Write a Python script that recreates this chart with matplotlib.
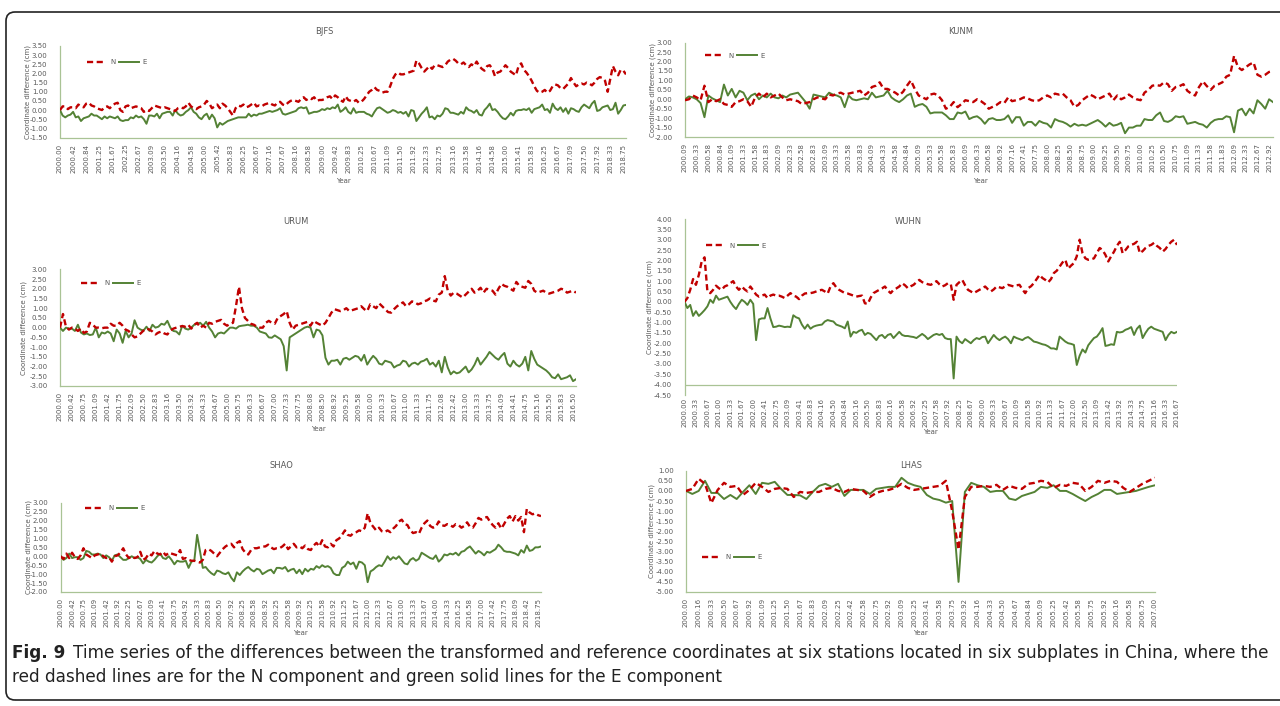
import matplotlib.pyplot as plt
from matplotlib.lines import Line2D
from matplotlib.patches import FancyBboxPatch
from matplotlib.transforms import IdentityTransform
import numpy as np

W, H = 1280, 706
RED = '#c00000'
GREEN = '#548235'
AXIS = '#a9c395'
TXT = '#595959'

# ---- BJFS ----
BJFS_TICKS = ['2000.00', '2000.42', '2000.84', '2001.25', '2001.67', '2002.25', '2002.67', '2003.09',
              '2003.50', '2004.16', '2004.58', '2005.00', '2005.42', '2005.83', '2006.25', '2006.67',
              '2007.16', '2007.67', '2008.16', '2008.58', '2009.00', '2009.42', '2009.83', '2010.25',
              '2010.67', '2011.09', '2011.50', '2011.92', '2012.33', '2012.75', '2013.16', '2013.58',
              '2014.16', '2014.58', '2015.00', '2015.41', '2015.83', '2016.25', '2016.67', '2017.09',
              '2017.50', '2017.92', '2018.33', '2018.75']
BJFS_N = [0.0, 0.2, 0.2, 0.05, 0.15, 0.15, 0.1, 0.3, 0.2, 0.15,
          0.35, 0.4, 0.25, 0.2, 0.1, 0.05, 0.0, 0.15, 0.2, 0.1,
          0.25, 0.35, 0.4, 0.0, -0.1, 0.2, 0.25, 0.1, 0.15, 0.2,
          0.15, 0.1, -0.1, 0.0, -0.05, 0.1, 0.25, 0.2, 0.15, 0.1,
          0.15, 0.1, 0.05, 0.0, -0.05, 0.1, 0.15, 0.1, 0.2, 0.4,
          0.2, 0.1, 0.05, 0.15, 0.2, 0.3, 0.5, 0.35, 0.1, 0.2,
          0.3, 0.1, 0.35, 0.25, 0.1, -0.1, -0.3, 0.1, 0.25, 0.2,
          0.3, 0.15, 0.2, 0.3, 0.4, 0.2, 0.25, 0.2, 0.3, 0.35,
          0.4, 0.3, 0.25, 0.4, 0.45, 0.3, 0.25, 0.4, 0.5, 0.55,
          0.5, 0.45, 0.6, 0.7, 0.55, 0.65, 0.6, 0.7, 0.5, 0.55,
          0.55, 0.6, 0.7, 0.75, 0.6, 0.8, 0.7, 0.55, 0.45, 0.75,
          0.55, 0.5, 0.45, 0.55, 0.4, 0.45, 0.6, 0.8, 1.0, 1.1,
          1.25, 1.1, 1.05, 0.95, 1.0, 1.0, 1.3, 1.7, 1.95, 2.05,
          1.95, 1.95, 2.0, 2.05, 2.1, 2.15, 2.7, 2.55, 2.3, 2.1,
          2.25, 2.4, 2.25, 2.45, 2.45, 2.4, 2.35, 2.45, 2.65, 2.75,
          2.8, 2.7, 2.55, 2.5, 2.6, 2.45, 2.35, 2.5, 2.4, 2.65,
          2.4, 2.25, 2.15, 2.4, 2.45, 2.25, 1.85, 2.05, 2.1, 2.25,
          2.45, 2.3, 2.1, 2.0, 1.9, 2.4, 2.55, 2.2, 2.05, 1.85,
          1.6, 1.3, 1.05, 0.95, 1.0, 1.1, 0.95, 1.05, 1.3, 1.4,
          1.35, 1.2, 1.15, 1.3, 1.45, 1.75, 1.5, 1.3, 1.4, 1.45,
          1.4, 1.5, 1.45, 1.35, 1.5, 1.7, 1.8, 1.75, 1.6, 1.0,
          1.7, 2.4, 2.1, 1.9, 2.2, 2.15, 1.95]
BJFS_E = [0.0, -0.3, -0.4, -0.3, -0.25, -0.1, -0.4, -0.35, -0.6, -0.45,
          -0.4, -0.35, -0.2, -0.3, -0.3, -0.4, -0.5, -0.35, -0.45, -0.35,
          -0.4, -0.45, -0.35, -0.55, -0.6, -0.55, -0.55, -0.4, -0.45, -0.3,
          -0.4, -0.35, -0.5, -0.75, -0.3, -0.3, -0.35, -0.2, -0.45, -0.2,
          -0.15, -0.1, -0.1, -0.3, 0.0, -0.2, -0.3, -0.25, -0.1, 0.0,
          0.15, -0.1, -0.2, -0.4, -0.5, -0.3, -0.2, -0.5, -0.25, -0.45,
          -0.95, -0.7, -0.8, -0.7, -0.6, -0.55, -0.5, -0.45, -0.4, -0.4,
          -0.4, -0.4, -0.2, -0.35, -0.25, -0.3, -0.2, -0.2, -0.15, -0.1,
          -0.05, -0.1, -0.05, 0.0, 0.1, -0.2, -0.25, -0.2, -0.15, -0.1,
          -0.05, 0.1, 0.15, 0.1, 0.15, -0.2, -0.15, -0.1, -0.1, -0.05,
          0.05, 0.0, 0.1, 0.05, 0.15, 0.1, 0.3, -0.1, 0.0, 0.15,
          -0.1, -0.2, 0.1, -0.15, -0.1, -0.1, -0.1, -0.2, -0.25, -0.35,
          -0.1, 0.1, 0.15, 0.05, -0.05, -0.15, -0.1, 0.0, -0.05, -0.15,
          -0.1, -0.2, -0.1, -0.35, 0.0, -0.05, -0.6, -0.4, -0.2, -0.05,
          0.15, -0.4, -0.35, -0.5, -0.3, -0.35, -0.2, 0.1, 0.05, -0.15,
          -0.15, -0.2, -0.25, -0.1, -0.2, 0.15, 0.0, -0.05, -0.15, 0.0,
          -0.25, -0.3, 0.0, 0.15, 0.35, 0.0, 0.05, -0.1, -0.3, -0.45,
          -0.5, -0.35, -0.15, -0.3, -0.05, 0.0, 0.0, 0.05, 0.0, 0.1,
          -0.15, 0.05, 0.1, 0.15, 0.3, 0.0, 0.05, -0.15, 0.35, 0.1,
          0.0, 0.15, -0.1, 0.1, -0.2, 0.1, 0.05, -0.05, -0.1, 0.15,
          0.3, 0.2, 0.1, 0.35, 0.5, -0.05, 0.0, 0.15, 0.2, 0.25,
          0.0, 0.05, 0.4, -0.2, 0.0, 0.25, 0.28]

# ---- KUNM ----
KUNM_TICKS = ['2000.09', '2000.33', '2000.58', '2000.84', '2001.09', '2001.33', '2001.58', '2001.83',
              '2002.09', '2002.33', '2002.58', '2002.83', '2003.09', '2003.33', '2003.58', '2003.83',
              '2004.09', '2004.33', '2004.58', '2004.84', '2005.09', '2005.33', '2005.58', '2005.83',
              '2006.09', '2006.33', '2006.58', '2006.92', '2007.16', '2007.41', '2007.75', '2008.00',
              '2008.25', '2008.50', '2008.75', '2009.00', '2009.25', '2009.50', '2009.75', '2010.00',
              '2010.25', '2010.50', '2010.75', '2011.09', '2011.33', '2011.58', '2011.83', '2012.09',
              '2012.33', '2012.67', '2012.92']
KUNM_N = [-0.05, 0.0, 0.2, 0.1, -0.05, 0.72, -0.15, 0.0, -0.1, 0.0,
          -0.25, -0.3, -0.4, -0.15, -0.1, 0.0, -0.1, -0.4, 0.1, 0.3,
          0.1, 0.3, 0.1, 0.2, 0.3, 0.1, -0.05, 0.0, -0.05, -0.1,
          -0.25, -0.2, -0.15, 0.0, 0.1, 0.05, 0.0, 0.25, 0.2, 0.3,
          0.35, 0.25, 0.3, 0.35, 0.4, 0.45, 0.2, 0.35, 0.65, 0.72,
          0.9, 0.55, 0.55, 0.45, 0.35, 0.2, 0.4, 0.72, 1.0, 0.55,
          0.2, 0.1, 0.0, 0.25, 0.3, 0.2, -0.05, -0.5, -0.4, -0.15,
          -0.42, -0.25, -0.05, -0.1, -0.15, 0.0, -0.1, -0.25, -0.5, -0.4,
          -0.3, -0.15, -0.2, 0.1, -0.1, -0.05, 0.0, 0.1, 0.05, -0.05,
          -0.1, -0.05, 0.1, 0.2, 0.1, 0.3, 0.25, 0.3, 0.1, -0.05,
          -0.4, -0.3, -0.05, 0.1, 0.25, 0.15, 0.0, 0.1, 0.2, 0.3,
          -0.05, 0.2, 0.0, 0.1, 0.25, 0.1, 0.0, -0.05, 0.35, 0.5,
          0.72, 0.75, 0.72, 0.9, 0.8, 0.45, 0.65, 0.7, 0.8, 0.45,
          0.3, 0.2, 0.65, 0.95, 0.7, 0.5, 0.72, 0.8, 0.9, 1.2,
          1.3, 2.3, 1.7, 1.55, 1.7, 1.85, 1.95, 1.3, 1.2, 1.3,
          1.45, 1.5]
KUNM_E = [0.0, 0.15, 0.1, 0.0, -0.2, -0.95, 0.2, 0.05, -0.05, -0.15,
          0.78, 0.2, 0.55, 0.1, 0.45, 0.35, -0.05, 0.2, 0.3, 0.0,
          0.2, 0.1, 0.3, 0.1, 0.05, 0.2, 0.1, 0.25, 0.3, 0.35,
          0.1, -0.15, -0.5, 0.25, 0.2, 0.15, 0.1, 0.35, 0.25, 0.2,
          0.1, -0.42, 0.2, 0.0, -0.05, 0.0, 0.05, 0.0, 0.35, 0.1,
          0.15, 0.2, 0.45, 0.1, -0.05, -0.15, 0.0, 0.2, 0.3, -0.4,
          -0.3, -0.25, -0.4, -0.75, -0.7, -0.7, -0.7, -0.85, -1.05, -1.05,
          -0.7, -0.75, -0.65, -1.05, -0.95, -0.9, -1.05, -1.3, -1.05, -1.0,
          -1.1, -1.1, -1.05, -0.85, -1.25, -0.95, -0.95, -1.4, -1.2, -1.2,
          -1.4, -1.15, -1.25, -1.3, -1.5, -1.05, -1.15, -1.2, -1.3, -1.45,
          -1.3, -1.4, -1.35, -1.4, -1.3, -1.2, -1.1, -1.25, -1.45, -1.25,
          -1.4, -1.35, -1.25, -1.8, -1.5, -1.5, -1.4, -1.4, -1.05, -1.1,
          -1.1, -0.85, -0.7, -1.15, -1.2, -1.1, -0.9, -0.95, -0.9, -1.3,
          -1.25, -1.2, -1.3, -1.35, -1.5, -1.25, -1.1, -1.05, -1.05, -0.9,
          -0.95, -1.75, -0.6, -0.5, -0.85, -0.5, -0.75, -0.05, -0.25, -0.5,
          0.0, -0.15]

# ---- URUM ----
URUM_TICKS = ['2000.00', '2000.42', '2000.75', '2001.09', '2001.42', '2001.75', '2002.09', '2002.50',
              '2002.83', '2003.16', '2003.50', '2003.92', '2004.33', '2004.67', '2005.00', '2005.75',
              '2006.33', '2006.67', '2007.00', '2007.33', '2007.75', '2008.08', '2008.50', '2008.92',
              '2009.25', '2009.58', '2010.00', '2010.33', '2010.67', '2011.00', '2011.33', '2011.75',
              '2012.08', '2012.42', '2013.00', '2013.33', '2013.75', '2014.09', '2014.41', '2014.75',
              '2015.16', '2015.50', '2015.83', '2016.50']
URUM_N = [0.0, 0.7, 0.05, -0.1, 0.0, -0.05, -0.17, -0.05, -0.27, -0.2,
          0.25, 0.15, 0.0, 0.0, -0.03, 0.0, 0.0, 0.2, 0.1, 0.1,
          0.25, 0.1, -0.1, -0.17, -0.35, -0.5, -0.45, -0.3, -0.15, -0.05,
          -0.1, -0.2, -0.35, -0.25, -0.2, -0.3, -0.35, -0.15, -0.05, 0.0,
          0.05, 0.08, 0.05, 0.15, -0.05, 0.15, 0.25, 0.0, 0.1, 0.0,
          0.25, 0.2, 0.3, 0.35, 0.4, 0.2, 0.1, 0.2, 0.25, 1.1,
          2.1, 1.0, 0.5, 0.35, 0.2, 0.15, 0.05, 0.0, 0.0, 0.25,
          0.35, 0.25, 0.2, 0.5, 0.6, 0.7, 0.85, 0.25, -0.1, 0.1,
          0.15, 0.2, 0.25, 0.3, 0.1, 0.35, 0.25, 0.17, 0.1, 0.25,
          0.5, 0.77, 0.95, 0.9, 0.85, 0.9, 1.0, 0.85, 0.9, 0.95,
          1.0, 1.1, 0.95, 0.85, 1.2, 1.1, 1.0, 1.25, 1.1, 0.95,
          0.8, 0.77, 0.95, 1.1, 1.2, 1.3, 1.1, 1.2, 1.35, 1.3,
          1.2, 1.25, 1.35, 1.4, 1.5, 1.4, 1.35, 1.7, 1.8, 2.65,
          1.9, 1.65, 1.8, 1.75, 1.65, 1.55, 1.7, 1.85, 2.0, 1.8,
          1.9, 2.05, 1.8, 2.0, 1.95, 1.9, 1.7, 2.0, 2.25, 2.15,
          2.1, 2.0, 1.9, 2.35, 2.15, 2.1, 2.05, 2.4, 2.25, 1.9,
          1.8, 1.85, 1.9, 1.8, 1.75, 1.8, 1.85, 1.9, 2.0, 1.95,
          1.8, 1.85, 1.9, 1.8]
URUM_E = [0.0, -0.17, 0.0, -0.05, -0.05, -0.17, 0.15, -0.25,
          -0.35, -0.3, -0.38, -0.35, 0.0, -0.5, -0.25, -0.3,
          -0.2, -0.3, -0.7, -0.1, -0.3, -0.78, -0.17, -0.5,
          -0.3, 0.38, 0.0, -0.1, -0.15, 0.05, -0.17, 0.15,
          0.0, 0.05, 0.2, 0.15, 0.35, 0.0, -0.17, -0.2,
          -0.35, 0.1, -0.05, -0.1, 0.0, 0.15, 0.2, 0.25,
          0.1, 0.3, 0.0, -0.2, -0.5, -0.3, -0.25, -0.3,
          -0.15, 0.0, 0.0, -0.05, 0.07, 0.1, 0.12, 0.15,
          0.1, 0.1, 0.0, -0.2, -0.25, -0.3, -0.5, -0.52,
          -0.4, -0.5, -0.6, -0.95, -2.2, -0.5, -0.4, -0.3,
          -0.2, -0.1, 0.0, 0.05, 0.0, -0.5, -0.1, -0.15,
          -0.4, -1.55, -1.9, -1.7, -1.7, -1.65, -1.9, -1.6,
          -1.55, -1.65, -1.55, -1.45, -1.5, -1.7, -1.4, -1.9,
          -1.65, -1.45, -1.6, -1.85, -1.9, -1.7, -1.75, -1.8,
          -2.05, -1.95, -1.9, -1.7, -1.75, -2.0, -1.85, -1.8,
          -1.9, -1.75, -1.7, -1.6, -1.9, -1.8, -2.0, -1.7,
          -2.3, -1.5, -2.05, -2.4, -2.25, -2.35, -2.3, -2.15,
          -2.0, -2.3, -2.15, -1.9, -1.55, -1.9, -1.7, -1.5,
          -1.25, -1.4, -1.55, -1.65, -1.45, -1.3, -1.85, -2.0,
          -1.7, -1.9, -2.0, -1.85, -1.5, -2.2, -1.2, -1.6,
          -1.9, -2.0, -2.1, -2.2, -2.35, -2.55, -2.6, -2.4,
          -2.65, -2.6, -2.55, -2.45, -2.75, -2.65]

# ---- WUHN ----
WUHN_TICKS = ['2000.00', '2000.33', '2000.67', '2001.00', '2001.33', '2001.67', '2002.00', '2002.41',
              '2002.75', '2003.09', '2003.41', '2003.83', '2004.16', '2004.50', '2004.84', '2005.16',
              '2005.50', '2005.83', '2006.16', '2006.58', '2006.92', '2007.25', '2007.58', '2007.92',
              '2008.25', '2008.67', '2009.00', '2009.33', '2009.67', '2010.09', '2010.58', '2010.92',
              '2011.33', '2011.67', '2012.00', '2012.50', '2013.09', '2013.42', '2013.92', '2014.33',
              '2014.75', '2015.16', '2016.33', '2016.67']
WUHN_N = [0.0, 0.18, 0.58, 1.1, 0.82, 1.3, 1.95, 2.15, 0.5, 0.42,
          0.58, 0.78, 0.66, 0.58, 0.74, 0.8, 0.9, 1.0, 0.74, 0.58,
          0.74, 0.6, 0.5, 0.74, 0.55, 0.35, 0.25, 0.3, 0.35, 0.18,
          0.3, 0.35, 0.3, 0.3, 0.25, 0.18, 0.3, 0.42, 0.3, 0.25,
          0.13, 0.3, 0.4, 0.42, 0.42, 0.45, 0.5, 0.55, 0.58, 0.5,
          0.4, 0.74, 0.9, 0.7, 0.58, 0.5, 0.42, 0.4, 0.35, 0.3,
          0.25, 0.28, 0.3, -0.07, -0.1, 0.2, 0.42, 0.5, 0.58, 0.65,
          0.74, 0.55, 0.42, 0.58, 0.65, 0.74, 0.9, 0.8, 0.66, 0.75,
          0.82, 0.95, 1.06, 0.95, 0.9, 0.85, 0.82, 0.9, 1.0, 0.85,
          0.74, 0.8, 0.9, 0.85, 0.1, 0.82, 0.95, 1.06, 0.8, 0.58,
          0.5, 0.42, 0.5, 0.58, 0.65, 0.74, 0.6, 0.5, 0.6, 0.74,
          0.7, 0.66, 0.75, 0.82, 0.78, 0.74, 0.8, 0.82, 0.6, 0.42,
          0.66, 0.75, 0.9, 1.1, 1.3, 1.15, 1.06, 0.94, 1.1, 1.39,
          1.5, 1.7, 1.9, 2.03, 1.6, 1.75, 1.87, 2.2, 3.0, 2.35,
          2.1, 2.03, 2.05, 2.1, 2.35, 2.6, 2.5, 2.27, 1.95, 2.2,
          2.42, 2.7, 2.9, 2.35, 2.5, 2.68, 2.75, 2.8, 2.9, 2.35,
          2.45, 2.6, 2.7, 2.75, 2.85, 2.7, 2.6, 2.42, 2.55, 2.75,
          2.9, 3.0, 2.75]
WUHN_E = [0.0, -0.3, -0.15, -0.68, -0.45, -0.68, -0.55, -0.4, -0.22, 0.1,
          -0.05, 0.3, 0.1, 0.15, 0.2, 0.25, 0.0, -0.2, -0.35, -0.1,
          0.1, 0.0, -0.15, 0.1, -0.1, -1.85, -0.85, -0.8, -0.8, -0.3,
          -0.8, -1.22, -1.2, -1.15, -1.18, -1.22, -1.2, -1.22, -0.65, -0.75,
          -0.8, -1.1, -1.3, -1.1, -1.3, -1.2, -1.15, -1.12, -1.1, -0.95,
          -0.88, -0.92, -0.95, -1.1, -1.15, -1.2, -1.28, -0.95, -1.68, -1.45,
          -1.5, -1.4, -1.35, -1.6, -1.5, -1.55, -1.7, -1.85, -1.65, -1.6,
          -1.75, -1.6, -1.55, -1.75, -1.6, -1.45, -1.6, -1.65, -1.65, -1.68,
          -1.7, -1.75, -1.65, -1.55, -1.65, -1.8, -1.7, -1.6, -1.55, -1.6,
          -1.55, -1.75, -1.8, -1.8, -3.7, -1.68, -1.9, -2.0, -1.8, -1.9,
          -2.0, -1.85, -1.75, -1.8, -1.7, -1.68, -2.0, -1.8, -1.6, -1.75,
          -1.85, -1.75, -1.68, -1.8, -2.0, -1.68, -1.75, -1.8, -1.85, -1.75,
          -1.7, -1.8, -1.92, -1.95, -2.0, -2.05, -2.08, -2.15, -2.25, -2.25,
          -2.3, -1.68, -1.8, -1.92, -2.0, -2.03, -2.08, -3.05, -2.6, -2.3,
          -2.45, -2.1, -1.92, -1.75, -1.68, -1.5, -1.27, -2.13, -2.1, -2.05,
          -2.08, -1.45, -1.48, -1.45, -1.35, -1.3, -1.22, -1.6, -1.3, -1.15,
          -1.75, -1.5, -1.3, -1.2, -1.3, -1.35, -1.4, -1.45, -1.85, -1.6,
          -1.45, -1.52, -1.45]

# ---- SHAO ----
SHAO_TICKS = ['2000.00', '2000.42', '2000.75', '2001.09', '2001.42', '2001.92', '2002.25', '2002.67',
              '2003.09', '2003.41', '2003.75', '2004.92', '2005.33', '2005.83', '2006.50', '2007.92',
              '2008.25', '2008.58', '2008.92', '2009.25', '2009.58', '2009.92', '2010.25', '2010.58',
              '2010.92', '2011.25', '2011.67', '2012.00', '2012.33', '2012.67', '2013.00', '2013.33',
              '2013.67', '2014.00', '2014.33', '2016.25', '2016.58', '2017.00', '2017.42', '2017.75',
              '2018.09', '2018.42', '2018.75']
SHAO_N = [0.0, -0.15, 0.15, -0.1, 0.2, -0.05, -0.15, 0.05,
          0.45, 0.1, 0.0, -0.1, 0.05, 0.1, 0.15, 0.0,
          -0.1, -0.05, -0.3, 0.0, 0.05, 0.2, 0.45, 0.1,
          -0.1, 0.0, -0.1, -0.05, 0.25, -0.2, -0.1, 0.15,
          0.05, 0.3, 0.15, 0.1, 0.25, 0.05, 0.2, 0.15,
          0.1, 0.05, 0.35, -0.15, -0.1, -0.2, -0.25, -0.25,
          -0.3, -0.35, -0.2, 0.35, 0.4, 0.3, 0.15, 0.0,
          0.2, 0.4, 0.55, 0.65, 0.7, 0.5, 0.75, 0.85,
          0.4, 0.2, 0.1, 0.35, 0.45, 0.45, 0.5, 0.55,
          0.55, 0.65, 0.5, 0.4, 0.45, 0.45, 0.55, 0.7,
          0.4, 0.55, 0.7, 0.5, 0.55, 0.45, 0.6, 0.4,
          0.35, 0.6, 0.75, 0.55, 0.9, 0.55, 0.5, 0.7,
          0.55, 0.9, 1.0, 1.2, 1.45, 1.2, 1.15, 1.3,
          1.35, 1.45, 1.4, 1.6, 2.4, 1.85, 1.65, 1.45,
          1.6, 1.4, 1.35, 1.45, 1.35, 1.55, 1.7, 1.95,
          2.05, 1.8, 1.75, 1.45, 1.3, 1.35, 1.25, 1.6,
          1.85, 2.0, 1.7, 1.6, 1.65, 1.95, 1.75, 1.7,
          1.8, 1.75, 1.65, 1.8, 1.75, 1.6, 1.7, 1.9,
          1.65, 1.6, 1.85, 2.15, 2.05, 2.15, 2.2, 1.95,
          1.75, 1.6, 1.85, 1.55, 1.8, 2.1, 2.25, 1.95,
          2.25, 2.0, 2.2, 1.35, 2.65, 2.45, 2.35, 2.4,
          2.3, 2.25]
SHAO_E = [0.0, -0.2, -0.1, 0.15, -0.1, -0.05, -0.05, -0.2,
          -0.1, 0.3, 0.25, 0.1, 0.1, 0.15, 0.1, -0.1,
          0.05, -0.05, -0.25, 0.05, 0.1, -0.05, -0.2, -0.2,
          -0.1, 0.0, -0.1, -0.05, -0.15, -0.4, -0.2, -0.3,
          -0.35, -0.2, 0.0, 0.15, -0.1, -0.15, 0.0, -0.2,
          -0.45, -0.25, -0.3, -0.3, -0.25, -0.65, -0.3, -0.25,
          1.2, 0.3, -0.65, -0.6, -0.8, -0.95, -1.05, -0.8,
          -0.85, -0.95, -1.0, -0.9, -1.2, -1.4, -0.9, -1.05,
          -0.85, -0.7, -0.6, -0.75, -0.85, -0.7, -0.75, -1.0,
          -0.9, -0.8, -0.75, -0.95, -0.65, -0.65, -0.7, -0.6,
          -0.85, -0.75, -0.7, -0.95, -0.75, -1.0, -0.7, -0.85,
          -0.7, -0.75, -0.55, -0.65, -0.5, -0.6, -0.55, -0.65,
          -0.95, -1.05, -1.05, -0.65, -0.55, -0.3, -0.45, -0.35,
          -0.7, -0.3, -0.35, -0.5, -1.45, -0.85, -0.75, -0.6,
          -0.5, -0.55, -0.3, 0.0, -0.2, -0.05, -0.15, 0.0,
          -0.2, -0.4, -0.45, -0.2, -0.1, -0.25, -0.15, 0.2,
          0.1, 0.0, -0.1, -0.15, 0.05, -0.3, -0.15, 0.1,
          0.05, 0.15, 0.1, 0.2, 0.05, 0.25, 0.3, 0.45,
          0.55, 0.35, 0.15, 0.3, 0.2, 0.05, 0.25, 0.2,
          0.3, 0.4, 0.65, 0.5, 0.3, 0.25, 0.25, 0.2,
          0.15, 0.05, 0.35, 0.2, 0.6, 0.3, 0.35, 0.5,
          0.5, 0.55]

# ---- LHAS ----
LHAS_TICKS = ['2000.00', '2000.16', '2000.33', '2000.50', '2000.67', '2000.92', '2001.09', '2001.25',
              '2001.50', '2001.67', '2001.83', '2002.09', '2002.25', '2002.42', '2002.58', '2002.75',
              '2002.92', '2003.09', '2003.25', '2003.41', '2003.58', '2003.75', '2003.92', '2004.16',
              '2004.33', '2004.50', '2004.67', '2004.84', '2005.09', '2005.25', '2005.42', '2005.58',
              '2005.75', '2005.92', '2006.16', '2006.58', '2006.75', '2007.00']
LHAS_N = [0.0, 0.1, 0.6, 0.35, -0.6, 0.05, 0.4, 0.2, 0.25, -0.2,
          0.05, 0.4, 0.2, -0.05, 0.1, 0.15, 0.1, -0.3, -0.05, -0.1,
          -0.05, -0.05, 0.1, 0.15, 0.0, -0.05, 0.1, 0.05, 0.0, -0.3,
          -0.1, 0.0, 0.05, 0.15, 0.35, 0.15, 0.05, 0.1, 0.15, 0.2,
          0.25, 0.5, -1.0, -2.9, -0.3, 0.2, 0.2, 0.25, 0.2, 0.3,
          0.05, 0.25, 0.15, 0.1, 0.35, 0.4, 0.5, 0.45, 0.15, 0.3,
          0.25, 0.4, 0.35, 0.0, 0.2, 0.5, 0.4, 0.5, 0.45, 0.15,
          -0.05, 0.15, 0.35, 0.5, 0.65]
LHAS_E = [0.0, -0.15, 0.0, 0.5, -0.1, -0.1, -0.4, -0.2, -0.4, -0.05,
          0.28, -0.15, 0.4, 0.35, 0.45, 0.1, -0.2, -0.2, -0.22, -0.4,
          -0.05, 0.25, 0.35, 0.2, 0.35, -0.25, 0.05, 0.05, 0.05, -0.15,
          0.1, 0.15, 0.2, 0.2, 0.65, 0.4, 0.28, 0.2, -0.2, -0.38,
          -0.45, -0.58, -0.5, -4.5, -0.05, 0.4, 0.28, 0.2, -0.05, 0.0,
          0.0, -0.38, -0.45, -0.25, -0.15, -0.05, 0.2, 0.15, 0.28, 0.0,
          0.0, -0.15, -0.33, -0.5, -0.3, -0.15, 0.05, 0.05, -0.15, -0.1,
          -0.05, 0.0, 0.1, 0.2, 0.28]


def fx(px):
    return px / W


def fy(py):
    return 1 - py / H


def panel(fig, name, box, ylim, ticks, step, north, east, legend_at, title_at, year_at,
          ylab_x, xline=None, xpad=4.5):
    x0, y0, x1, y1 = box
    ax = fig.add_axes([fx(x0), fy(y1), fx(x1 - x0), (y1 - y0) / H])
    n = len(east)
    x = np.arange(n)
    ax.plot(x, east, color=GREEN, lw=1.4, solid_joinstyle='round', label='E', zorder=3)
    ax.plot(np.arange(len(north)), north, color=RED, lw=1.7, ls=(0, (2.6, 1.5)),
            label='N', zorder=4)
    ax.set_xlim(0, n - 1)
    ax.set_ylim(*ylim)
    ax.set_yticks(np.arange(ylim[0], ylim[1] + 0.01, 0.5))
    ax.yaxis.set_major_formatter(plt.FuncFormatter(lambda v, p: f'{v:.2f}'))
    ax.set_xticks(np.arange(len(ticks)) * step)
    ax.set_xticklabels(ticks, rotation=90)
    ax.tick_params(length=0, labelsize=5, labelcolor=TXT)
    ax.tick_params(axis='y', pad=9)
    ax.tick_params(axis='x', pad=xpad)
    for s in ('top', 'right'):
        ax.spines[s].set_visible(False)
    ax.spines['left'].set_color(AXIS)
    ax.spines['left'].set_linewidth(0.9)
    if xline is None:
        ax.spines['bottom'].set_color(AXIS)
        ax.spines['bottom'].set_linewidth(0.9)
    else:
        ax.spines['bottom'].set_visible(False)
        ax.axhline(xline, color=AXIS, lw=0.9, zorder=1)
    ax.patch.set_alpha(0)

    handles = [Line2D([], [], color=RED, lw=1.7, ls=(0, (2.6, 1.5))),
               Line2D([], [], color=GREEN, lw=1.4)]
    ax.legend(handles, ['N', 'E'], ncol=2, loc='center left',
              bbox_to_anchor=(fx(legend_at[0]), fy(legend_at[1])),
              bbox_transform=fig.transFigure, frameon=False, fontsize=5,
              labelcolor=TXT, handlelength=2.8, handletextpad=0.5,
              columnspacing=0.6, borderpad=0, borderaxespad=0)

    fig.text(fx(title_at[0]), fy(title_at[1]), name, ha='center', va='center',
             fontsize=6, color=TXT)
    fig.text(fx(year_at[0]), fy(year_at[1]), 'Year', ha='center', va='center',
             fontsize=5, color=TXT)
    fig.text(fx(ylab_x), fy((y0 + y1) / 2), 'Coordinate difference (cm)', rotation=90,
             ha='center', va='center', fontsize=5, color=TXT)
    return ax


fig = plt.figure(figsize=(W / 100, H / 100), dpi=100)

panel(fig, 'BJFS', (60, 46, 626, 137.5), (-1.5, 3.5), BJFS_TICKS, 5, BJFS_N, BJFS_E,
      (87, 62), (324, 32), (343, 181), 28)
panel(fig, 'KUNM', (685, 42.7, 1273, 137), (-2.0, 3.0), KUNM_TICKS, 3, KUNM_N, KUNM_E,
      (705, 55.7), (961, 32), (980, 181), 653)
panel(fig, 'URUM', (60, 269.3, 576, 386), (-3.0, 3.0), URUM_TICKS, 4, URUM_N, URUM_E,
      (81, 283), (296, 221), (318, 429), 24)
panel(fig, 'WUHN', (684.5, 219, 1177, 395), (-4.5, 4.0), WUHN_TICKS, 4, WUHN_N, WUHN_E,
      (706, 245.7), (908, 221), (930, 432), 650, xline=-4.0, xpad=2)
panel(fig, 'SHAO', (60.7, 502.7, 541, 592), (-2.0, 3.0), SHAO_TICKS, 4, SHAO_N, SHAO_E,
      (85, 508), (281, 466), (300, 633), 29)
panel(fig, 'LHAS', (686, 470.7, 1155, 592), (-5.0, 1.0), LHAS_TICKS, 2, LHAS_N, LHAS_E,
      (702, 557), (911, 465), (920, 633), 652)

# rounded frame around the figure block
frame = FancyBboxPatch((6, H - 700), 1300, 688, boxstyle='round,pad=0,rounding_size=9',
                       transform=IdentityTransform(), fill=False, ec='#222222', lw=1.2,
                       figure=fig)
fig.patches.append(frame)

# caption, sized so the first line spans the block width
cap_font = ['Liberation Sans Narrow', 'DejaVu Sans']
line1 = 'Time series of the differences between the transformed and reference coordinates at six stations located in six subplates in China, where the'
line2 = 'red dashed lines are for the N component and green solid lines for the E component'
renderer = fig.canvas.get_renderer()
size = 12.0
for _ in range(3):
    t_bold = fig.text(0, 0, 'Fig. 9', fontsize=size, fontweight='bold', family=cap_font)
    t_rest = fig.text(0, 0, line1, fontsize=size, family=cap_font)
    wb = t_bold.get_window_extent(renderer).width
    wr = t_rest.get_window_extent(renderer).width
    t_bold.remove()
    t_rest.remove()
    total = wb + 8 + wr
    size *= 1253 / total
tb = fig.text(fx(12), fy(653), 'Fig. 9', fontsize=size, fontweight='bold', va='center',
              family=cap_font, color='#222222')
wb = tb.get_window_extent(renderer).width
fig.text(fx(12 + wb + 8), fy(653), line1, fontsize=size, va='center', family=cap_font,
         color='#222222')
fig.text(fx(12), fy(677), line2, fontsize=size, va='center', family=cap_font, color='#222222')

fig.savefig('out.png', dpi=100)
